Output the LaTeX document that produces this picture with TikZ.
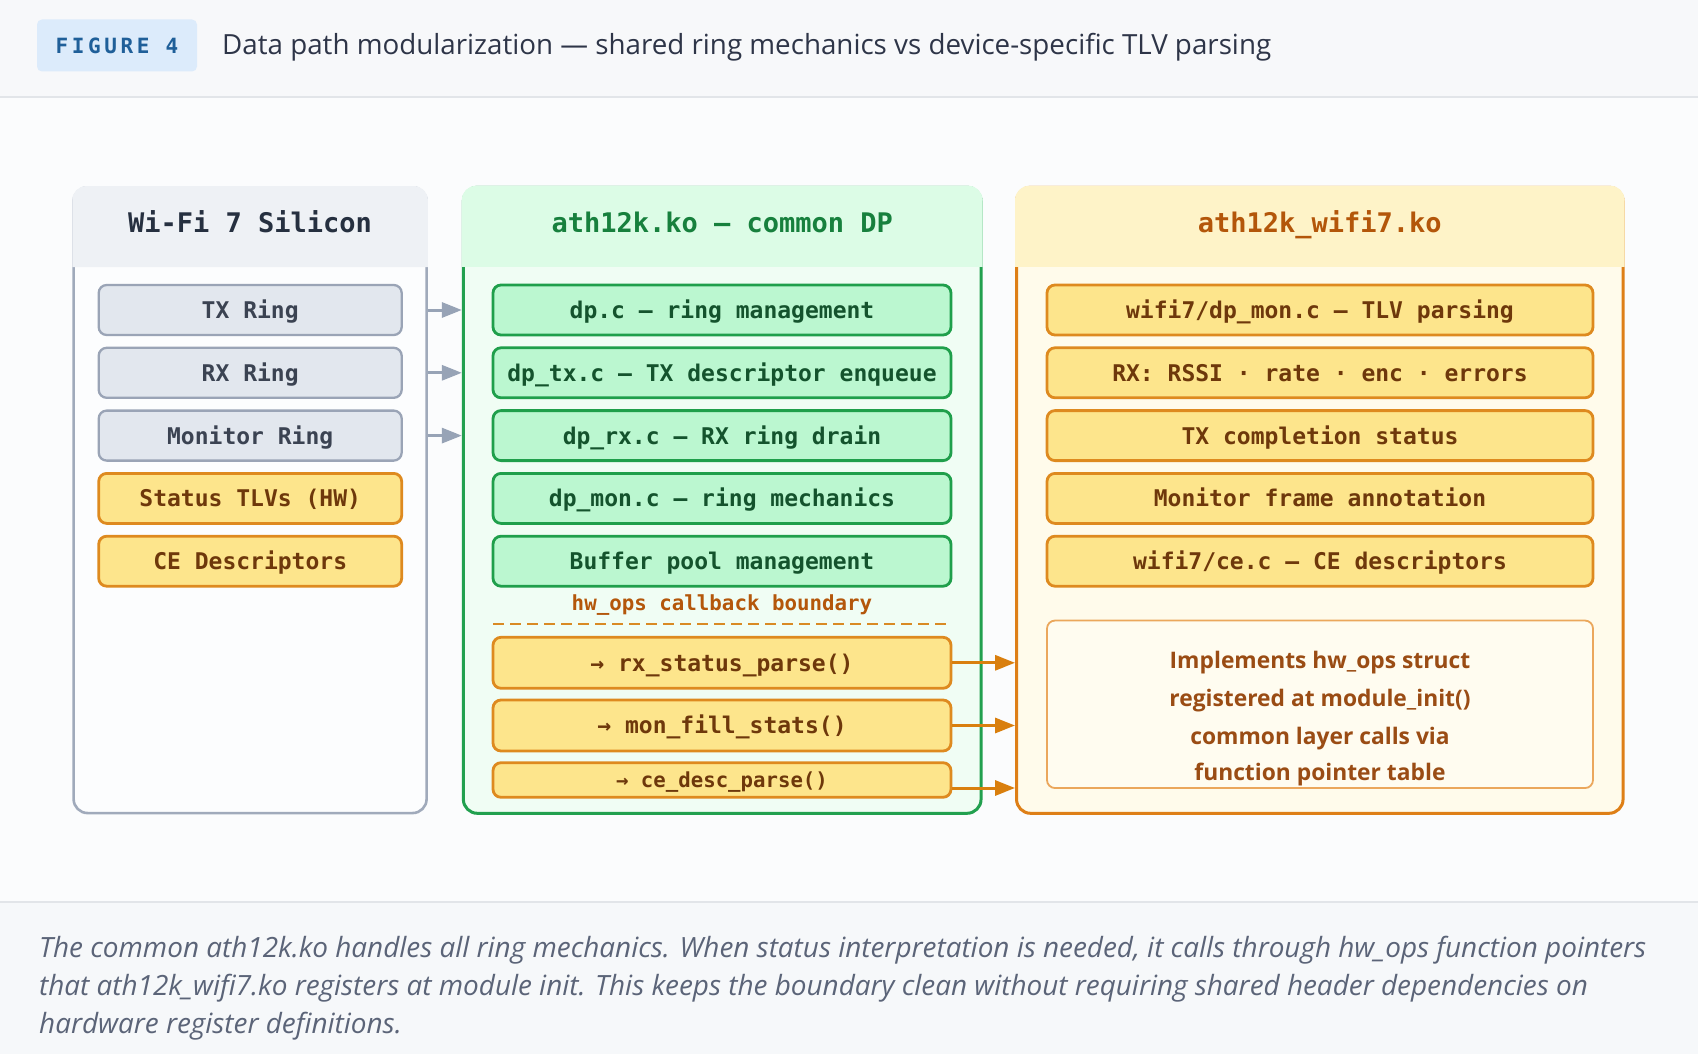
\documentclass[tikz,border=0pt]{standalone}
\usepackage{fontspec}
\usetikzlibrary{arrows.meta,calc}
\newfontfamily\sansf{Open Sans}
\newfontfamily\monof{DejaVu Sans Mono}
\newfontfamily\badgef[LetterSpace=17]{DejaVu Sans Mono}
\definecolor{hdrbg}{HTML}{F7F8FA}
\definecolor{midbg}{HTML}{FBFCFD}
\definecolor{capbg}{HTML}{F6F8FA}
\definecolor{sepc}{HTML}{E2E5E9}
\definecolor{badgefill}{HTML}{DCEBFB}
\definecolor{badgetext}{HTML}{1F5F99}
\definecolor{titletext}{HTML}{2E3548}
\definecolor{capttext}{HTML}{5B6478}
\definecolor{gcolb}{HTML}{A0AABB}
\definecolor{gcolh}{HTML}{EEF1F5}
\definecolor{gcolbody}{HTML}{FCFDFE}
\definecolor{gcolt}{HTML}{263040}
\definecolor{gboxf}{HTML}{E2E7EE}
\definecolor{gboxb}{HTML}{9AA4B6}
\definecolor{gboxt}{HTML}{3B4352}
\definecolor{yboxf}{HTML}{FDE58C}
\definecolor{yboxb}{HTML}{DE8A1F}
\definecolor{yboxt}{HTML}{6E380B}
\definecolor{ncolb}{HTML}{22A04F}
\definecolor{ncolh}{HTML}{DCFCE6}
\definecolor{ncolbody}{HTML}{F0FDF4}
\definecolor{ncolt}{HTML}{17803D}
\definecolor{nboxf}{HTML}{BBF7D0}
\definecolor{nboxb}{HTML}{1F9F4B}
\definecolor{nboxt}{HTML}{14532D}
\definecolor{ocolb}{HTML}{DE7F17}
\definecolor{ocolh}{HTML}{FEF3C8}
\definecolor{ocolbody}{HTML}{FFFBEB}
\definecolor{ocolt}{HTML}{B3560A}
\definecolor{implf}{HTML}{FFFCF0}
\definecolor{implb}{HTML}{EBA75C}
\definecolor{implt}{HTML}{9A4C14}
\definecolor{boundt}{HTML}{B4570B}
\definecolor{dashc}{HTML}{D98A24}
\definecolor{oarrow}{HTML}{D97F0E}
\definecolor{garrow}{HTML}{97A3B6}
\tikzset{
  colbox/.style={rounded corners=14pt, line width=2.6pt, inner sep=0pt},
  coltitle/.style={font=\monof\bfseries\fontsize{27}{30}\selectfont, text height=19.7pt, text depth=0pt, inner sep=0pt},
  rowbox/.style={rounded corners=8pt, line width=2.8pt, inner sep=0pt, minimum height=50pt,
     font=\monof\bfseries\fontsize{23}{26}\selectfont, text height=16.8pt, text depth=0pt},
  graybox/.style={rowbox, fill=gboxf, draw=gboxb, line width=2.3pt, text=gboxt, minimum width=303pt},
  ylwbox/.style={rowbox, fill=yboxf, draw=yboxb, text=yboxt},
  grnbox/.style={rowbox, fill=nboxf, draw=nboxb, text=nboxt, minimum width=458pt},
  garr/.style={draw=garrow, line width=3pt, -{Triangle[length=20pt,width=15pt]}},
  oarr/.style={draw=oarrow, line width=3pt, -{Triangle[length=20pt,width=15pt]}},
  impltxt/.style={font=\sansf\bfseries\fontsize{22.8}{26}\selectfont, text=implt, text height=16.3pt, text depth=0pt, inner sep=0pt},
  capt/.style={font=\sansf\itshape\fontsize{27.9}{30}\selectfont, text=capttext, text height=19.9pt, text depth=0pt, inner sep=0pt, anchor=west}
}
\begin{document}
\begin{tikzpicture}[x=1pt,y=-1pt]
\useasboundingbox (0,0) rectangle (1698,1054);
% backgrounds
\fill[hdrbg] (0,0) rectangle (1698,97);
\fill[midbg] (0,97) rectangle (1698,902);
\fill[capbg] (0,902) rectangle (1698,1054);
\draw[sepc, line width=2pt] (0,97) -- (1698,97);
\draw[sepc, line width=2pt] (0,902) -- (1698,902);
% header
\node[fill=badgefill, rounded corners=5pt, minimum width=160pt, minimum height=52pt, inner sep=0pt,
  text=badgetext, font=\badgef\bfseries\fontsize{21}{24}\selectfont, text height=15.3pt, text depth=0pt] (badge) at (117,45.5) {FIGURE 4};
\node[anchor=west, inner sep=0pt, text=titletext, font=\sansf\fontsize{27.75}{30}\selectfont, text height=19.8pt, text depth=0pt] (title) at (222,45) {Data path modularization — shared ring mechanics vs device-specific TLV parsing};

% columns
\node[colbox, draw=gcolb, fill=gcolbody, minimum width=353pt, minimum height=625.7pt] (leftcol) at (250.1,500.2) {};
\fill[gcolh] ($(leftcol.north west)+(0,81)$) {[rounded corners=14pt] -- (leftcol.north west) -- (leftcol.north east)} -- ($(leftcol.north east)+(0,81)$) -- cycle;
\node[colbox, draw=ncolb, line width=3pt, fill=ncolbody, minimum width=517.7pt, minimum height=626pt] (midcol) at (722.2,500.3) {};
\fill[ncolh] ($(midcol.north west)+(0,81)$) {[rounded corners=14pt] -- (midcol.north west) -- (midcol.north east)} -- ($(midcol.north east)+(0,81)$) -- cycle;
\node[colbox, draw=ocolb, line width=3pt, fill=ocolbody, minimum width=606.5pt, minimum height=626pt] (rightcol) at (1319.8,500.3) {};
\fill[ocolh] ($(rightcol.north west)+(0,81)$) {[rounded corners=14pt] -- (rightcol.north west) -- (rightcol.north east)} -- ($(rightcol.north east)+(0,81)$) -- cycle;

\node[coltitle, text=gcolt] (lefttitle) at (250.1,223) {Wi-Fi 7 Silicon};
\node[coltitle, text=ncolt] (midtitle) at (722.2,223) {ath12k.ko — common DP};
\node[coltitle, text=ocolt] (righttitle) at (1319.8,223) {ath12k\_wifi7.ko};

% left boxes
\node[graybox] (txr) at (250.2,310) {TX Ring};
\node[graybox] (rxr) at (250.2,372.8) {RX Ring};
\node[graybox] (monr) at (250.2,435.6) {Monitor Ring};
\node[ylwbox, minimum width=303pt] (stlv) at (250.2,498.4) {Status TLVs (HW)};
\node[ylwbox, minimum width=303pt] (ced) at (250.2,561.2) {CE Descriptors};

% middle boxes
\node[grnbox] (dpc) at (722,310) {dp.c — ring management};
\node[grnbox] (dptx) at (722,372.8) {dp\_tx.c — TX descriptor enqueue};
\node[grnbox] (dprx) at (722,435.6) {dp\_rx.c — RX ring drain};
\node[grnbox] (dpmon) at (722,498.4) {dp\_mon.c — ring mechanics};
\node[grnbox] (bufp) at (722,561.2) {Buffer pool management};

\node[inner sep=0pt, text=boundt, font=\monof\bfseries\fontsize{20.8}{24}\selectfont, text height=15.2pt, text depth=0pt] (bound) at (722,603) {hw\_ops callback boundary};
\coordinate (dashl) at (493,624);
\coordinate (dashr) at (951,624);
\draw[dashc, line width=2.6pt, dash pattern=on 11pt off 6pt] (dashl) -- (dashr);

\node[ylwbox, minimum width=458pt, minimum height=51pt] (rxp) at (722,662.8) {→ rx\_status\_parse()};
\node[ylwbox, minimum width=458pt, minimum height=51pt] (monf) at (722,725.5) {→ mon\_fill\_stats()};
\node[ylwbox, minimum width=458pt, minimum height=34.6pt, font=\monof\bfseries\fontsize{20.7}{24}\selectfont, text height=15.1pt] (cedp) at (722,780) {→ ce\_desc\_parse()};

% right boxes
\node[ylwbox, minimum width=546pt] (tlvp) at (1320,310) {wifi7/dp\_mon.c — TLV parsing};
\node[ylwbox, minimum width=546pt] (rxs) at (1320,372.8) {RX: RSSI · rate · enc · errors};
\node[ylwbox, minimum width=546pt] (txc) at (1320,435.6) {TX completion status};
\node[ylwbox, minimum width=546pt] (mfa) at (1320,498.4) {Monitor frame annotation};
\node[ylwbox, minimum width=546pt] (cec) at (1320,561.2) {wifi7/ce.c — CE descriptors};

\node[draw=implb, fill=implf, line width=1.8pt, rounded corners=8pt, minimum width=546pt, minimum height=167.5pt, inner sep=0pt] (impl) at (1320,704.3) {};
\node[impltxt] (impl1) at (1320,660) {Implements hw\_ops struct};
\node[impltxt] (impl2) at (1320,698.3) {registered at module\_init()};
\node[impltxt] (impl3) at (1320,736) {common layer calls via};
\node[impltxt] (impl4) at (1320,772.7) {function pointer table};

% arrows
\draw[garr] (txr.east -| leftcol.east) -- (txr.east -| midcol.west);
\draw[garr] (rxr.east -| leftcol.east) -- (rxr.east -| midcol.west);
\draw[garr] (monr.east -| leftcol.east) -- (monr.east -| midcol.west);
\draw[oarr] (rxp.east) -- (rxp.east -| rightcol.west);
\draw[oarr] (monf.east) -- (monf.east -| rightcol.west);
\draw[oarr] ([yshift=-8pt]cedp.east) -- ([yshift=-8pt]cedp.east -| rightcol.west);

% caption
\node[capt] (cap1) at (39,947.5) {The common ath12k.ko handles all ring mechanics. When status interpretation is needed, it calls through hw\_ops function pointers};
\node[capt] (cap2) at (39,985.5) {that ath12k\_wifi7.ko registers at module init. This keeps the boundary clean without requiring shared header dependencies on};
\node[capt] (cap3) at (39,1023.3) {hardware register definitions.};
\end{tikzpicture}
\end{document}
